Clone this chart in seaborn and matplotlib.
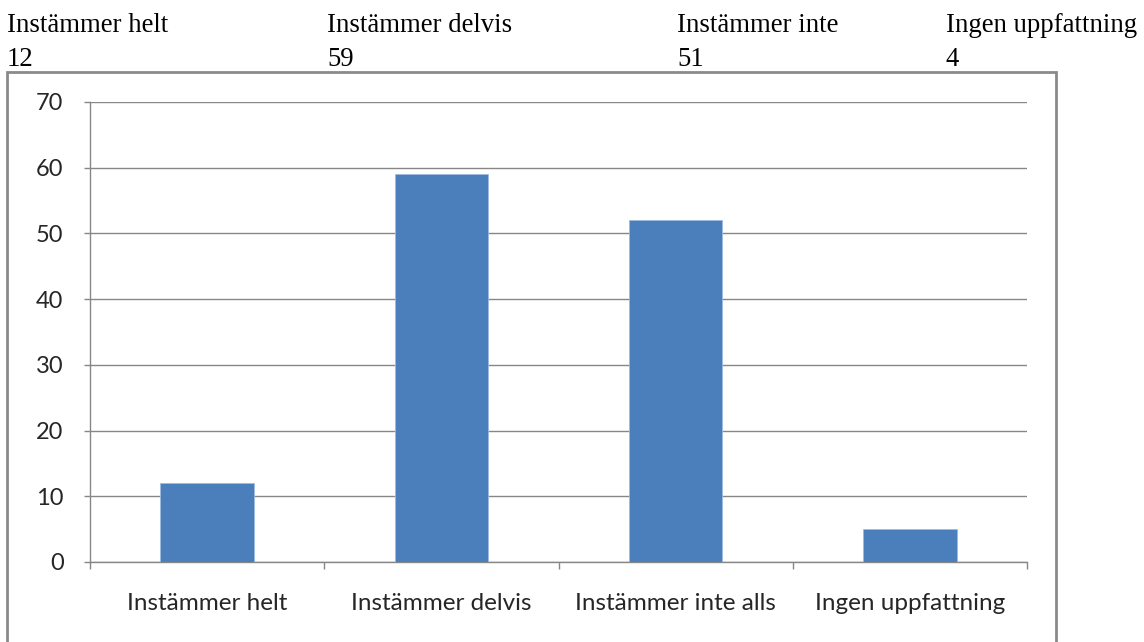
import matplotlib
matplotlib.use("Agg")
import matplotlib.pyplot as plt
import seaborn as sns
import pandas as pd
from matplotlib.patches import Rectangle

# Data
categories = ["Instämmer helt", "Instämmer delvis", "Instämmer inte alls", "Ingen uppfattning"]
values = [12, 59, 52, 5]

# Header row above the chart (text and counts as written)
header_labels = ["Instämmer helt", "Instämmer delvis", "Instämmer inte", "Ingen uppfattning"]
header_counts = ["12", "59", "51", "4"]
header_x = [7, 327, 677, 946]

y_ticks = [0, 10, 20, 30, 40, 50, 60, 70]

df = pd.DataFrame({"category": categories, "value": values})

sns.set_style("white")
plt.rcParams["font.family"] = ["Lato", "DejaVu Sans"]

W, H = 1144, 642
fig = plt.figure(figsize=(W / 100, H / 100), dpi=100)
ax = fig.add_axes([90 / W, 1 - 562 / H, (1027 - 90) / W, (562 - 102) / H])

sns.barplot(data=df, x="category", y="value", color="#4a7fbb", saturation=1,
            width=0.4, edgecolor="#9dbbe0", linewidth=0.6, ax=ax, zorder=3)

gray = "#878787"
ax.set_ylim(0, 70)
ax.set_xlim(-0.5, 3.5)
ax.set_yticks(y_ticks)
ax.yaxis.grid(True, color=gray, linewidth=1.0, zorder=0)
ax.set_axisbelow(True)
ax.set_xlabel("")
ax.set_ylabel("")
for side in ["top", "right"]:
    ax.spines[side].set_visible(False)
for side in ["left", "bottom"]:
    ax.spines[side].set_color(gray)
    ax.spines[side].set_linewidth(1.0)

ax.tick_params(axis="y", length=4, width=1, color=gray, pad=15,
               labelsize=17, labelcolor="#262626", left=True)
ax.tick_params(axis="x", which="major", length=0, pad=22,
               labelsize=17.5, labelcolor="#262626")
ax.set_xticks([-0.5, 0.5, 1.5, 2.5, 3.5], minor=True)
ax.tick_params(axis="x", which="minor", length=5, width=1, color=gray, bottom=True)

# outer chart border (open at the bottom edge of the image)
fig.patches.append(Rectangle((7 / W, -0.01), (1056 - 7) / W, 1.01 - 72 / H,
                             transform=fig.transFigure, fill=False,
                             edgecolor="#8a8a8a", linewidth=2))

for lbl, cnt, x in zip(header_labels, header_counts, header_x):
    fig.text(x / W, 1 - 32 / H, lbl, family="Liberation Serif", fontsize=19.3,
             color="black", va="baseline", ha="left")
    fig.text(x / W, 1 - 66 / H, cnt, family="Liberation Serif", fontsize=19.3,
             color="black", va="baseline", ha="left")

fig.savefig("out.png", dpi=100)
